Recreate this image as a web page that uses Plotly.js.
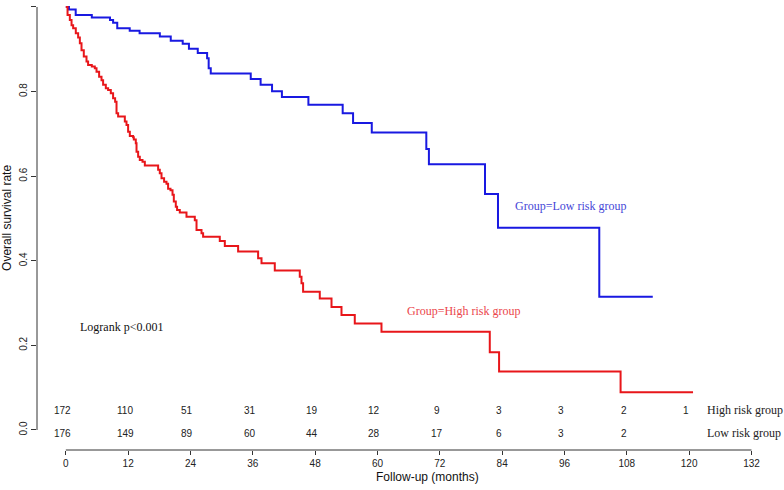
<!DOCTYPE html>
<html>
<head>
<meta charset="utf-8">
<script src="https://cdn.plot.ly/plotly-3.0.1.min.js"></script>
<style>
  html, body { margin: 0; padding: 0; background: #fff; }
  #km { width: 784px; height: 490px; }
</style>
</head>
<body>
<div id="km"></div>
<script>
// Kaplan-Meier 曲線：讀圖得到的時間點（月）與存活率
const lowTime = [0, 0.6, 1.9, 5.0, 8.5, 9.1, 9.9, 12.3, 14.2, 18.1, 20.2, 22.5, 23.7, 25.4, 27.2, 27.5, 27.9,
  35.6, 37.5, 39.7, 41.6, 46.7, 53.3, 55.3, 58.9, 69.4, 69.9, 80.7, 83.2, 102.7, 113.0];
const lowSurv = [1.0, 0.994, 0.981, 0.975, 0.969, 0.963, 0.950, 0.944, 0.938, 0.930, 0.920, 0.913, 0.901, 0.891, 0.879, 0.855, 0.843,
  0.830, 0.816, 0.801, 0.787, 0.769, 0.749, 0.726, 0.703, 0.664, 0.628, 0.558, 0.478, 0.315, 0.315];

const highTime = [0, 0.33, 0.77, 1.10, 1.41, 1.92, 2.37, 2.7, 3.02, 3.46, 3.98, 4.29, 5.0, 5.58, 5.91, 6.41, 6.87, 7.18, 7.70, 8.14,
  8.66, 9.10, 9.49, 9.76, 10.07, 11.36, 11.68, 11.99, 12.32, 12.95, 13.09, 13.47, 13.61, 13.92, 14.24, 14.76, 15.21,
  17.77, 18.09, 18.42, 18.92, 19.38, 19.69, 20.15, 20.54, 20.79, 21.17, 21.42, 21.94, 23.23, 24.83, 25.16, 26.12, 26.43,
  29.64, 30.61, 33.17, 37.02, 37.67, 40.23, 45.04, 45.37, 45.68, 48.89, 51.15, 53.07, 55.63, 60.77, 81.62, 83.41, 106.8, 120.75];
const highSurv = [1.0, 0.981, 0.969, 0.957, 0.950, 0.938, 0.928, 0.914, 0.898, 0.883, 0.871, 0.863, 0.859, 0.855, 0.847, 0.835, 0.827, 0.816, 0.808, 0.804,
  0.796, 0.784, 0.776, 0.749, 0.741, 0.729, 0.721, 0.705, 0.695, 0.692, 0.687, 0.678, 0.658, 0.646, 0.638, 0.634, 0.625,
  0.615, 0.607, 0.595, 0.587, 0.582, 0.570, 0.567, 0.556, 0.540, 0.528, 0.520, 0.514, 0.504, 0.496, 0.473, 0.465, 0.457,
  0.447, 0.435, 0.422, 0.406, 0.394, 0.377, 0.362, 0.347, 0.327, 0.311, 0.291, 0.272, 0.252, 0.232, 0.184, 0.138, 0.089, 0.089];

// 風險表（number at risk）
const riskTimes = [0, 12, 24, 36, 48, 60, 72, 84, 96, 108, 120];
const riskHigh = [172, 110, 51, 31, 19, 12, 9, 3, 3, 2, 1];
const riskLow = [176, 149, 89, 60, 44, 28, 17, 6, 3, 2];

const xTicks = [0, 12, 24, 36, 48, 60, 72, 84, 96, 108, 120, 132];
const yTicks = [0, 0.2, 0.4, 0.6, 0.8, 1.0];

const blue = 'rgb(25,25,225)';
const red = 'rgb(232,22,26)';
const sans = 'Liberation Sans, Arial, sans-serif';
const serif = 'Liberation Serif, Times New Roman, serif';

const traces = [
  {
    x: lowTime, y: lowSurv, type: 'scatter', mode: 'lines',
    line: { shape: 'hv', color: blue, width: 2 },
    name: 'Low risk group', hoverinfo: 'x+y'
  },
  {
    x: highTime, y: highSurv, type: 'scatter', mode: 'lines',
    line: { shape: 'hv', color: red, width: 2 },
    name: 'High risk group', hoverinfo: 'x+y'
  }
];

const annotations = [];
// 風險表數字
riskHigh.forEach((n, i) => {
  annotations.push({ x: riskTimes[i], y: 0.047, xref: 'x', yref: 'y', text: String(n), showarrow: false,
    xshift: -3, font: { family: sans, size: 10, color: '#222' } });
});
riskLow.forEach((n, i) => {
  annotations.push({ x: riskTimes[i], y: -0.008, xref: 'x', yref: 'y', text: String(n), showarrow: false,
    xshift: -3, font: { family: sans, size: 10, color: '#222' } });
});
annotations.push(
  { x: 123, y: 0.047, xref: 'x', yref: 'y', text: 'High risk group', showarrow: false, xanchor: 'left',
    font: { family: serif, size: 12, color: '#222' } },
  { x: 123, y: -0.008, xref: 'x', yref: 'y', text: 'Low risk group', showarrow: false, xanchor: 'left',
    font: { family: serif, size: 12, color: '#222' } },
  { x: 97.2, y: 0.53, xref: 'x', yref: 'y', text: 'Group=Low risk group', showarrow: false,
    font: { family: serif, size: 12, color: 'rgb(70,70,215)' } },
  { x: 76.6, y: 0.281, xref: 'x', yref: 'y', text: 'Group=High risk group', showarrow: false,
    font: { family: serif, size: 12, color: 'rgb(235,70,75)' } },
  { x: 10.8, y: 0.243, xref: 'x', yref: 'y', text: 'Logrank p<0.001', showarrow: false,
    font: { family: serif, size: 12, color: '#111' } },
  // x 軸標題
  { x: 69.7, y: -0.06, xref: 'x', yref: 'paper', text: 'Follow-up (months)', showarrow: false,
    xanchor: 'center', yanchor: 'middle', font: { family: sans, size: 12, color: '#111' } },
  // y 軸標題
  { x: -0.0395, y: 0.515, xref: 'paper', yref: 'paper', text: 'Overall survival rate', showarrow: false,
    xanchor: 'center', yanchor: 'middle', textangle: -90, font: { family: sans, size: 12, color: '#111' } }
);

const layout = {
  width: 784, height: 490,
  margin: { l: 37, r: 5, t: 0, b: 40 },
  paper_bgcolor: '#fff', plot_bgcolor: '#fff',
  showlegend: false,
  xaxis: {
    range: [-5.55, 137.3], tickvals: xTicks, ticktext: xTicks.map(String),
    ticks: 'outside', ticklen: 4, tickcolor: '#333', showgrid: false, zeroline: false, showline: false,
    tickfont: { family: sans, size: 10, color: '#222' }
  },
  yaxis: {
    range: [-0.0473, 1.0165], tickvals: yTicks, ticktext: yTicks.map(v => v.toFixed(1)),
    ticks: 'outside', ticklen: 5, tickcolor: '#333', tickangle: -90, showgrid: false, zeroline: false, showline: false,
    tickfont: { family: sans, size: 10, color: '#222' }
  },
  shapes: [
    // R 風格軸線：只畫到刻度範圍
    { type: 'line', xref: 'paper', yref: 'y', x0: 0, x1: 0, y0: 0, y1: 1, line: { color: '#333', width: 1 } },
    { type: 'line', xref: 'x', yref: 'paper', x0: 0, x1: 132, y0: 0, y1: 0, line: { color: '#333', width: 1 } }
  ],
  annotations: annotations
};

Plotly.newPlot('km', traces, layout, { displayModeBar: false, staticPlot: true });
</script>
</body>
</html>
